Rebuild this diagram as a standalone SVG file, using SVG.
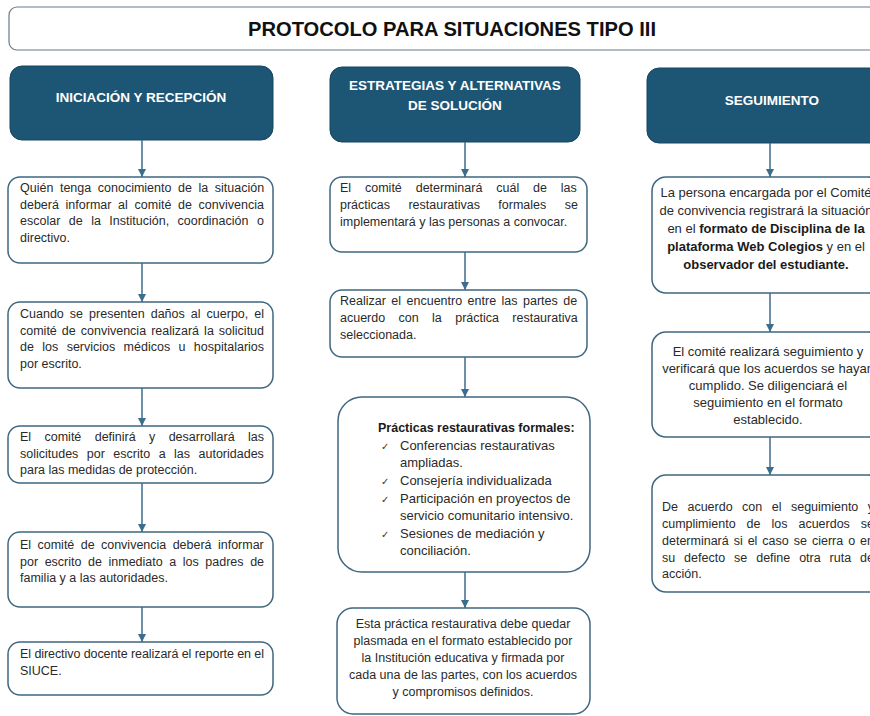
<svg xmlns="http://www.w3.org/2000/svg" width="870" height="716" viewBox="0 0 870 716">
<defs>
<marker id="ah" viewBox="0 0 8 8" refX="8" refY="4" markerWidth="8" markerHeight="8" markerUnits="userSpaceOnUse" orient="auto">
<path d="M0,0 L8,4 L0,8 z" fill="#3b6d8c"/>
</marker>
<style>
.hdr{fill:#1d5575;stroke:#164660;stroke-width:1}
.hdrt{font-family:"Liberation Sans",Arial,sans-serif;font-weight:bold;font-size:13.5px;fill:#ffffff;text-anchor:middle}
.box{fill:#ffffff;stroke:#3f6780;stroke-width:1.5}
.t{font-family:"Liberation Sans",Arial,sans-serif;font-size:12.5px;fill:#2a2a2a}
.t13{font-size:13px}
.c{text-anchor:middle}
.b{font-weight:bold;fill:#1a1a1a}
.ck{font-family:"DejaVu Sans",sans-serif;font-size:10px;fill:#333}
.li{font-family:"Liberation Sans",Arial,sans-serif;font-size:13px;fill:#2a2a2a}
.conn line{stroke:#3b6d8c;stroke-width:1.5;marker-end:url(#ah)}
</style>
</defs>
<rect width="870" height="716" fill="#ffffff"/>

<g id="title">
<rect x="9" y="7" width="885" height="43" rx="8" fill="#ffffff" stroke="#6b7a86" stroke-width="1.2"/>
<text x="248" y="36" font-family="'Liberation Sans',Arial,sans-serif" font-weight="bold" font-size="21" fill="#111" textLength="408" lengthAdjust="spacingAndGlyphs">PROTOCOLO PARA SITUACIONES TIPO III</text>
</g>

<g id="h1"><rect class="hdr" x="10" y="66" width="263" height="74" rx="12"/><text class="hdrt" x="141" y="102">INICIACIÓN Y RECEPCIÓN</text></g>
<g id="h2"><rect class="hdr" x="330" y="67" width="250" height="75" rx="12"/><text class="hdrt" x="455" y="90">ESTRATEGIAS Y ALTERNATIVAS</text><text class="hdrt" x="455" y="110">DE SOLUCIÓN</text></g>
<g id="h3"><rect class="hdr" x="647" y="68" width="250" height="75" rx="12"/><text class="hdrt" x="772" y="105">SEGUIMIENTO</text></g>

<g id="a1"><rect class="box" x="8" y="177" width="265" height="86" rx="12"/>
<text class="t" x="20" y="192" word-spacing="3.1">Quién tenga conocimiento de la situación</text>
<text class="t" x="20" y="209" word-spacing="3.2">deberá informar al comité de convivencia</text>
<text class="t" x="20" y="225" word-spacing="5">escolar de la Institución, coordinación o</text>
<text class="t" x="20" y="242">directivo.</text></g>

<g id="a2"><rect class="box" x="8" y="302" width="265" height="86" rx="12"/>
<text class="t" x="20" y="318" word-spacing="2.57">Cuando se presenten daños al cuerpo, el</text>
<text class="t" x="20" y="335" word-spacing="1.56">comité de convivencia realizará la solicitud</text>
<text class="t" x="20" y="351" word-spacing="4.9">de los servicios médicos u hospitalarios</text>
<text class="t" x="20" y="368">por escrito.</text></g>

<g id="a3"><rect class="box" x="8" y="426" width="265" height="57" rx="12"/>
<text class="t" x="20" y="441" word-spacing="9.9">El comité definirá y desarrollará las</text>
<text class="t" x="20" y="458" word-spacing="5">solicitudes por escrito a las autoridades</text>
<text class="t" x="20" y="474">para las medidas de protección.</text></g>

<g id="a4"><rect class="box" x="8" y="532" width="265" height="75" rx="12"/>
<text class="t" x="20" y="549" word-spacing="2.9">El comité de convivencia deberá informar</text>
<text class="t" x="20" y="566" word-spacing="3.1">por escrito de inmediato a los padres de</text>
<text class="t" x="20" y="582">familia y a las autoridades.</text></g>

<g id="a5"><rect class="box" x="8" y="642" width="265" height="53" rx="12"/>
<text class="t" x="20" y="658" textLength="244" lengthAdjust="spacing">El directivo docente realizará el reporte en el</text>
<text class="t" x="20" y="675">SIUCE.</text></g>

<g id="b1"><rect class="box" x="330" y="177" width="257" height="75" rx="12"/>
<text class="t" x="340" y="192" word-spacing="10.4">El comité determinará cuál de las</text>
<text class="t" x="340" y="209" word-spacing="14.9">prácticas restaurativas formales se</text>
<text class="t" x="340" y="226">implementará y las personas a convocar.</text></g>

<g id="b2"><rect class="box" x="330" y="290" width="257" height="67" rx="12"/>
<text class="t" x="340" y="305" word-spacing="2">Realizar el encuentro entre las partes de</text>
<text class="t" x="340" y="322" word-spacing="9.9">acuerdo con la práctica restaurativa</text>
<text class="t" x="340" y="339">seleccionada.</text></g>

<g id="b3"><rect class="box" x="338" y="397" width="252" height="175" rx="24"/>
<text class="t b" x="378" y="432" font-size="11">Prácticas restaurativas formales:</text>
<text class="ck" x="381" y="450">✓</text><text class="li" x="400" y="450">Conferencias restaurativas</text>
<text class="li" x="400" y="467">ampliadas.</text>
<text class="ck" x="381" y="485">✓</text><text class="li" x="400" y="485">Consejería individualizada</text>
<text class="ck" x="381" y="503">✓</text><text class="li" x="400" y="503">Participación en proyectos de</text>
<text class="li" x="400" y="520">servicio comunitario intensivo.</text>
<text class="ck" x="381" y="538">✓</text><text class="li" x="400" y="538">Sesiones de mediación y</text>
<text class="li" x="400" y="555">conciliación.</text></g>

<g id="b4"><rect class="box" x="337" y="608" width="253" height="106" rx="16"/>
<text class="t c" x="463" y="628" font-size="12">Esta práctica restaurativa debe quedar</text>
<text class="t c" x="463" y="645" font-size="12">plasmada en el formato establecido por</text>
<text class="t c" x="463" y="662" font-size="12">la Institución educativa y firmada por</text>
<text class="t c" x="463" y="679" font-size="12">cada una de las partes, con los acuerdos</text>
<text class="t c" x="463" y="696" font-size="12">y compromisos definidos.</text></g>

<g id="c1"><rect class="box" x="652" y="177" width="230" height="116" rx="14"/>
<text class="t t13 c" x="766" y="197">La persona encargada por el Comité</text>
<text class="t t13 c" x="766" y="215">de convivencia registrará la situación</text>
<text class="t t13 c" x="766" y="233">en el <tspan class="b">formato de Disciplina de la</tspan></text>
<text class="t t13 c" x="766" y="251"><tspan class="b">plataforma Web Colegios</tspan> y en el</text>
<text class="t t13 c b" x="766" y="269">observador del estudiante.</text></g>

<g id="c2"><rect class="box" x="652" y="332" width="230" height="105" rx="14"/>
<text class="t t13 c" x="768" y="356">El comité realizará seguimiento y</text>
<text class="t t13 c" x="768" y="373">verificará que los acuerdos se hayan</text>
<text class="t t13 c" x="768" y="390">cumplido. Se diligenciará el</text>
<text class="t t13 c" x="768" y="407">seguimiento en el formato</text>
<text class="t t13 c" x="768" y="424">establecido.</text></g>

<g id="c3"><rect class="box" x="652" y="475" width="230" height="117" rx="14"/>
<text class="t" x="662" y="511" word-spacing="6">De acuerdo con el seguimiento y</text>
<text class="t" x="662" y="528" word-spacing="7.5">cumplimiento de los acuerdos se</text>
<text class="t" x="662" y="545" word-spacing="1.5">determinará si el caso se cierra o en</text>
<text class="t" x="662" y="562" word-spacing="5.45">su defecto se define otra ruta de</text>
<text class="t" x="662" y="578">acción.</text></g>

<g id="connectors" class="conn">
<line x1="142" y1="140" x2="142" y2="177"/>
<line x1="142" y1="263" x2="142" y2="302"/>
<line x1="142" y1="388" x2="142" y2="426"/>
<line x1="142" y1="483" x2="142" y2="532"/>
<line x1="142" y1="607" x2="142" y2="642"/>
<line x1="465" y1="142" x2="465" y2="177"/>
<line x1="465" y1="252" x2="465" y2="290"/>
<line x1="465" y1="357" x2="465" y2="397"/>
<line x1="465" y1="572" x2="465" y2="608"/>
<line x1="770" y1="143" x2="770" y2="177"/>
<line x1="770" y1="293" x2="770" y2="332"/>
<line x1="770" y1="437" x2="770" y2="475"/>
</g>
</svg>
